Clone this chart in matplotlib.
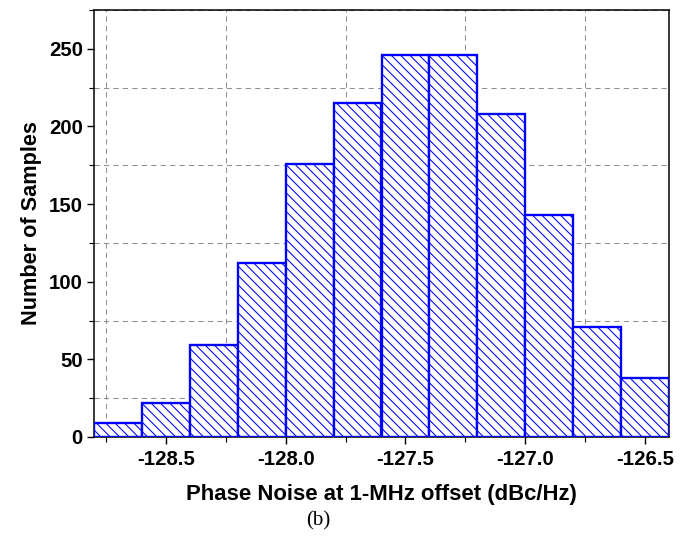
import matplotlib
matplotlib.use('Agg')
import matplotlib.pyplot as plt
import numpy as np
from matplotlib.ticker import MultipleLocator

plt.rcParams['font.family'] = ['Liberation Sans', 'DejaVu Sans']
plt.rcParams['hatch.linewidth'] = 0.9

# histogram data
bin_edges = [-128.8, -128.6, -128.4, -128.2, -128.0, -127.8, -127.6,
             -127.4, -127.2, -127.0, -126.8, -126.6, -126.4]
counts = [9, 22, 59, 112, 176, 215, 246, 246, 208, 143, 71, 38]
xticks = [-128.5, -128.0, -127.5, -127.0, -126.5]
yticks = [0, 50, 100, 150, 200, 250]

DPI = 84
fig = plt.figure(figsize=(693/DPI, 537/DPI), dpi=DPI)
ax = fig.add_axes([94/693, 1-437/537, 575/693, 427/537])

lefts = np.array(bin_edges[:-1])
widths = np.diff(bin_edges)
ax.bar(lefts, counts, width=widths, align='edge', facecolor='white',
       edgecolor='#0000ff', linewidth=2.0, hatch='\\\\\\', zorder=3)

ax.set_xlim(-128.8, -126.4)
ax.set_ylim(0, 275)
ax.set_xticks(xticks)
ax.set_xticklabels(['%.1f' % v for v in xticks])
ax.set_yticks(yticks)
ax.xaxis.set_minor_locator(MultipleLocator(0.25))
ax.yaxis.set_minor_locator(MultipleLocator(25))
# gridlines sit on the minor ticks only
ax.grid(which='minor', color='#909090', linestyle=(0, (5, 4)), linewidth=0.9, zorder=1)
ax.grid(which='major', visible=False)

ax.tick_params(which='major', direction='out', length=6, width=1.2,
               labelsize=17.5, top=False, right=False)
ax.tick_params(axis='x', which='major', pad=5)
ax.tick_params(which='minor', direction='out', length=4, width=1.0,
               top=False, right=False)
for lab in ax.get_xticklabels() + ax.get_yticklabels():
    lab.set_fontweight('bold')
for sp in ax.spines.values():
    sp.set_linewidth(1.3)

ax.set_xlabel('Phase Noise at 1-MHz offset (dBc/Hz)', fontsize=19,
              fontweight='bold', labelpad=13)
ax.set_ylabel('Number of Samples', fontsize=18.5, fontweight='bold', labelpad=6)

fig.text(318/693, 1-521/537, '(b)', fontsize=18, ha='center', va='center',
         family=['Liberation Serif', 'DejaVu Serif'])

fig.savefig('out.png', dpi=DPI)
